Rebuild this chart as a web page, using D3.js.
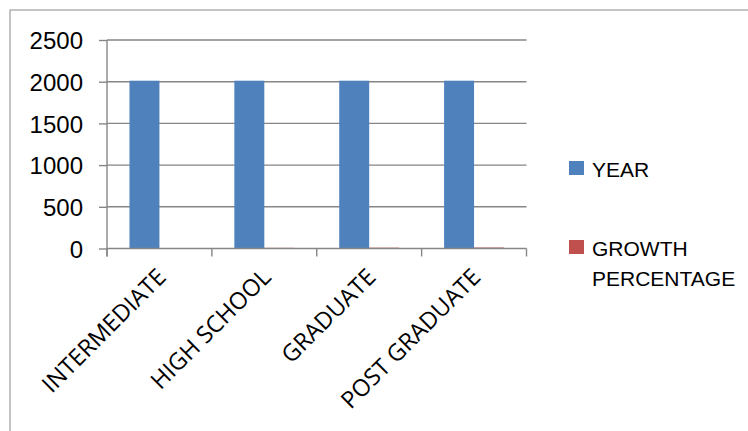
<!DOCTYPE html>
<html><head><meta charset="utf-8">
<script src="https://cdn.jsdelivr.net/npm/d3@7"></script>
<style>html,body{margin:0;padding:0;background:#fff;overflow:hidden}</style>
</head><body>
<svg id="c" width="748" height="431"></svg>
<script>
const categories = ["INTERMEDIATE", "HIGH SCHOOL", "GRADUATE", "POST GRADUATE"];
const seriesNames = ["YEAR", "GROWTH PERCENTAGE"];
const yearValues = [2012, 2012, 2012, 2012];
const growthValues = [6, 8, 10, 12];
const yTicks = [0, 500, 1000, 1500, 2000, 2500];
const colors = ["#4F81BD", "#C0504D"];

(function () {
const svg = d3.select("#c");
const pLeft = 107, pRight = 526.5, pTop = 40, pBottom = 248.5;

// outer frame
svg.append("rect").attr("x", 10).attr("y", 10).attr("width", 760).attr("height", 440)
  .attr("fill", "none").attr("stroke", "#a6a6a6").attr("stroke-width", 1.3);

const x0 = d3.scaleBand().domain(categories).range([pLeft, pRight]).paddingInner(0).paddingOuter(0);
// Excel gap width 150%: bar width = band/3.5, outer offset 0.75 bar
const bw = x0.bandwidth() / 3.5;
const y = d3.scaleLinear().domain([0, 2500]).range([pBottom, pTop]);

// gridlines
svg.append("g").selectAll("line").data(yTicks.filter(d => d > 0)).join("line")
  .attr("x1", pLeft).attr("x2", pRight).attr("y1", d => y(d)).attr("y2", d => y(d))
  .attr("stroke", "#868686").attr("stroke-width", 1.4);

// bars
const data = categories.map((c, i) => ({ c, vals: [yearValues[i], growthValues[i]] }));
const g = svg.append("g");
data.forEach(d => {
  d.vals.forEach((v, j) => {
    g.append("rect")
      .attr("x", x0(d.c) + 0.75 * bw + j * bw)
      .attr("width", bw)
      .attr("y", y(v))
      .attr("height", pBottom - y(v))
      .attr("fill", colors[j]);
  });
});

// y axis
const yAxis = d3.axisLeft(y).tickValues(yTicks).tickSize(8).tickPadding(16).tickFormat(d3.format("d"));
const ya = svg.append("g").attr("transform", `translate(${pLeft},0)`).call(yAxis);
ya.select(".domain").attr("d", `M0,${pTop}V${pBottom + 8}`).attr("stroke", "#868686").attr("stroke-width", 1.4);
ya.selectAll(".tick line").attr("stroke", "#868686").attr("stroke-width", 1.4);
ya.selectAll(".tick text").attr("font-family", "Liberation Sans, Arial, sans-serif").attr("font-size", 24).attr("fill", "#000").attr("dy", "0.36em");

// x axis
const xa = svg.append("g").attr("transform", `translate(0,${pBottom})`);
xa.append("line").attr("x1", pLeft).attr("x2", pRight).attr("stroke", "#868686").attr("stroke-width", 1.4);
const tickPos = categories.map(c => x0(c)).concat([pRight]);
xa.selectAll("line.t").data(tickPos).join("line").attr("class", "t")
  .attr("x1", d => d).attr("x2", d => d).attr("y1", 0).attr("y2", 8)
  .attr("stroke", "#868686").attr("stroke-width", 1.4);
xa.selectAll("text").data(categories).join("text")
  .attr("transform", d => `translate(${x0(d) + x0.bandwidth() / 2 + 8},${30}) rotate(-45)`)
  .attr("text-anchor", "end")
  .attr("font-family", "Open Sans, sans-serif").attr("font-size", 23.5)
  .attr("fill", "#000")
  .text(d => d);

// legend
const lg = svg.append("g").attr("font-family", "Liberation Sans, Arial, sans-serif").attr("font-size", 21).attr("fill", "#000");
const legendRows = [
  { lines: ["YEAR"], y: 161 },
  { lines: ["GROWTH", "PERCENTAGE"], y: 240 }
];
legendRows.forEach((r, i) => {
  lg.append("rect").attr("x", 569).attr("y", r.y).attr("width", 15).attr("height", 14).attr("fill", colors[i]);
  r.lines.forEach((t, k) => {
    lg.append("text").attr("x", 592).attr("y", r.y + 16 + k * 30).text(t);
  });
});
})();
</script>
</body></html>
